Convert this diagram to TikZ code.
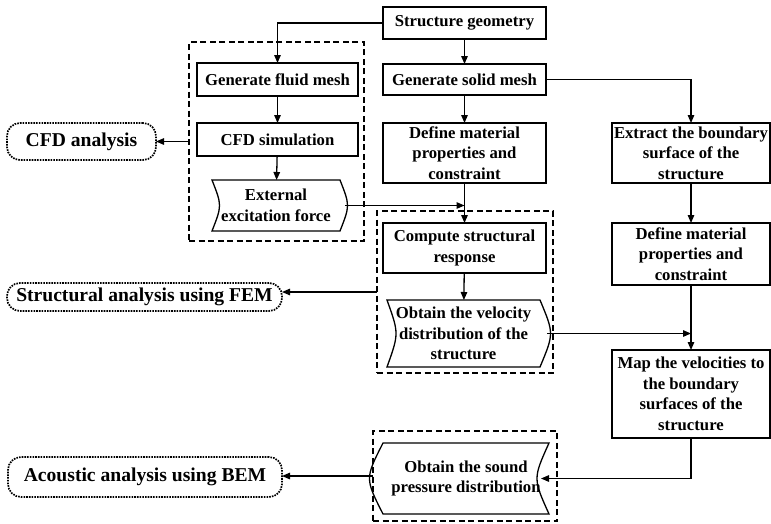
\documentclass[tikz,border=0pt]{standalone}
\usepackage{fontspec}
\setmainfont{Liberation Serif}
\usetikzlibrary{arrows.meta,calc}
\begin{document}
\begin{tikzpicture}[x=1pt,y=-1pt,
  txt/.style={align=center,inner sep=0pt,outer sep=0pt,font=\bfseries\fontsize{16.7}{20.5}\selectfont},
  box/.style={txt,draw,line width=1.3pt},
  tape/.style={line width=1.3pt},
  grp/.style={draw,line width=1.7pt,dash pattern=on 6pt off 3.5pt,inner sep=0pt,outer sep=0pt},
  lab/.style={draw,line width=1.7pt,dash pattern=on 1.6pt off 1.1pt,rounded corners=13pt,inner sep=0pt,outer sep=0pt,font=\bfseries\fontsize{19.6}{22}\selectfont},
  arr/.style={line width=1.3pt,-{Triangle[length=8pt,width=6.5pt]}}
]
\useasboundingbox (0,0) rectangle (771,523);

% dashed groups
\node[grp,minimum width=175pt,minimum height=199pt] (g1) at (276.5,141.5) {};
\node[grp,minimum width=176pt,minimum height=162pt] (g2) at (465,292) {};
\node[grp,minimum width=184pt,minimum height=90pt] (g3) at (465,476) {};

% central column
\node[box,minimum width=163pt,minimum height=32pt] (geo) at (464.5,23) {Structure geometry};
\node[box,minimum width=163pt,minimum height=31pt] (solid) at (464.5,79.5) {Generate solid mesh};
\node[box,minimum width=163pt,minimum height=60pt] (def1) at (464.5,153) {Define material\\properties and\\constraint};
\node[box,minimum width=163pt,minimum height=50pt] (comp) at (464.5,248) {Compute structural\\response};
\node[txt,minimum width=153pt,minimum height=67pt] (vel) at (463.5,333.5) {Obtain the velocity\\distribution of the\\structure};
\draw[tape] (vel.north west) .. controls ($(vel.west)+(12,0)$) .. (vel.south west) -- (vel.south east)
  .. controls ($(vel.east)+(14,0)$) .. (vel.north east) -- cycle;

% fluid column
\node[box,minimum width=161pt,minimum height=33pt] (fluid) at (277.5,79.5) {Generate fluid mesh};
\node[box,minimum width=161pt,minimum height=33pt] (cfdsim) at (277.5,139.5) {CFD simulation};
\node[txt,minimum width=128pt,minimum height=51pt] (ext) at (276,205.5) {External\\excitation force};
\draw[tape] (ext.north west) .. controls ($(ext.west)+(10,0)$) .. (ext.south west) -- (ext.south east)
  .. controls ($(ext.east)+(10,0)$) .. (ext.north east) -- cycle;

% right column
\node[box,minimum width=158pt,minimum height=60pt] (extr) at (691,153) {Extract the boundary\\surface of the\\structure};
\node[box,minimum width=158pt,minimum height=62pt] (def2) at (691,254) {Define material\\properties and\\constraint};
\node[box,minimum width=158pt,minimum height=88pt] (map) at (691,394) {Map the velocities to\\the boundary\\surfaces of the\\structure};

% sound pressure
\node[txt,minimum width=166pt,minimum height=71pt] (snd) at (466,478.5) {Obtain the sound\\pressure distribution};
\draw[tape] (snd.north west) .. controls ($(snd.west)+(-18,0)$) .. (snd.south west) -- (snd.south east)
  .. controls ($(snd.east)+(-16,0)$) .. (snd.north east) -- cycle;
\coordinate (sndR) at ($(snd.east)+(-8,0)$);

% labels
\node[lab,minimum width=149pt,minimum height=37pt] (cfd) at (81.5,141.5) {CFD analysis};
\node[lab,minimum width=275pt,minimum height=28pt] (fem) at (144.5,297) {Structural analysis using FEM};
\node[lab,minimum width=274pt,minimum height=40pt] (bem) at (145,477) {Acoustic analysis using BEM};

% connectors
\draw[arr] (geo.west) -| (fluid.north);
\draw[arr] (geo) -- (solid);
\draw[arr] (solid) -- (def1);
\draw[arr] (solid.east) -| (extr.north);
\draw[arr] (fluid) -- (cfdsim);
\draw[arr] (cfdsim) -- (ext);
\draw[arr] (def1) -- (comp);
\draw[arr] ($(ext.east)+(5,0)$) -- (ext.east -| def1.south);
\draw[arr] (comp) -- (vel);
\draw[arr] (extr) -- (def2);
\draw[arr] (def2) -- (map);
\draw[arr] ($(vel.east)+(7,0)$) -- (vel.east -| map.north);
\draw[arr] (map.south) |- (sndR);
\draw[arr] (g1.west) -- (g1.west -| cfd.east);
\draw[arr] (g2.west) -- (g2.west -| fem.east);
\draw[arr] (g3.west) -- (g3.west -| bem.east);
\end{tikzpicture}
\end{document}
